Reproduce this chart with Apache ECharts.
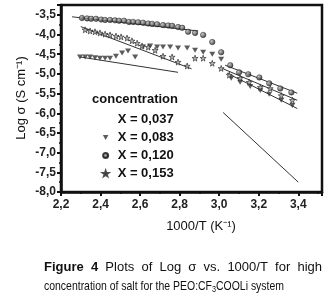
<!DOCTYPE html>
<html>
<head>
<meta charset="utf-8">
<script src="https://cdn.jsdelivr.net/npm/echarts@6/dist/echarts.min.js"></script>
<style>
  html, body { margin: 0; padding: 0; background: #fff; }
  #chart { width: 336px; height: 303px; }
</style>
</head>
<body>
<div id="chart"></div>
<script>
  // X = 0,120 (circles)
  const x120 = [2.306, 2.332, 2.352, 2.377, 2.403, 2.423, 2.448, 2.473, 2.494, 2.519, 2.544, 2.565, 2.590, 2.615, 2.641, 2.661, 2.686, 2.716, 2.742, 2.762, 2.792, 2.813, 2.843, 2.878, 2.919, 2.965, 3.010, 3.056, 3.101, 3.147, 3.203, 3.253, 3.309, 3.365];
  const y120 = [-3.58, -3.59, -3.60, -3.60, -3.62, -3.63, -3.63, -3.64, -3.65, -3.65, -3.68, -3.68, -3.69, -3.70, -3.72, -3.73, -3.74, -3.76, -3.77, -3.78, -3.81, -3.83, -3.93, -3.96, -4.01, -4.19, -4.45, -4.78, -4.96, -5.01, -5.09, -5.24, -5.37, -5.47];
  // X = 0,083 (down triangles)
  const x083 = [2.296, 2.322, 2.347, 2.372, 2.397, 2.423, 2.448, 2.478, 2.509, 2.539, 2.575, 2.615, 2.651, 2.686, 2.716, 2.752, 2.792, 2.838, 2.878, 2.919, 2.965, 3.010, 3.061, 3.106, 3.157, 3.208, 3.253, 3.314, 3.370];
  const y083 = [-4.57, -4.57, -4.57, -4.59, -4.60, -4.60, -4.60, -4.55, -4.47, -4.42, -4.57, -4.32, -4.29, -4.32, -4.32, -4.32, -4.34, -4.34, -4.40, -4.45, -4.50, -4.63, -5.11, -5.21, -5.32, -5.42, -5.52, -5.67, -5.80];
  // X = 0,153 (stars)
  const x153 = [2.322, 2.347, 2.372, 2.397, 2.423, 2.448, 2.478, 2.504, 2.534, 2.559, 2.585, 2.610, 2.641, 2.676, 2.716, 2.762, 2.792, 2.838, 2.878, 2.919, 2.965, 3.010, 3.051, 3.106, 3.152, 3.208, 3.258, 3.314, 3.370];
  const y153 = [-3.88, -3.91, -3.93, -3.96, -3.99, -4.01, -4.04, -4.06, -4.09, -4.16, -4.22, -4.29, -4.32, -4.40, -4.55, -4.57, -4.70, -4.80, -4.60, -4.60, -4.73, -4.86, -5.03, -5.11, -5.21, -5.34, -5.37, -5.55, -5.67];

  // straight fit lines, [x0, x1] and [y0, y1]
  const fit037aX = [2.296, 2.792], fit037aY = [-4.57, -4.96];
  const fit037bX = [3.02, 3.40], fit037bY = [-5.98, -7.75];
  const fit120lowX = [2.256, 2.894], fit120lowY = [-3.55, -3.91];
  const fit153lowX = [2.30, 2.86], fit153lowY = [-3.80, -4.87];
  const fit120highX = [3.03, 3.395], fit120highY = [-4.78, -5.49];
  const fit153highX = [3.015, 3.395], fit153highY = [-4.86, -5.67];
  const fit083highX = [3.04, 3.395], fit083highY = [-4.98, -5.88];

  const legendNames = ['X = 0,037', 'X = 0,083', 'X = 0,120', 'X = 0,153'];

  const zip = (xs, ys) => xs.map((v, i) => [v, ys[i]]);
  const comma = v => v.toFixed(1).replace('.', ',');

  const starPath = 'path://M50,0L61,35L98,35L68,57L79,91L50,70L21,91L32,57L2,35L39,35Z';
  const triPath = 'path://M0,0L10,0L5,9Z';
  const sphere = new echarts.graphic.RadialGradient(0.35, 0.35, 0.7, [
    {offset: 0, color: '#bbb'},
    {offset: 1, color: '#111'}
  ]);

  const fitLine = (name, xs, ys) => ({
    name: name,
    type: 'line',
    data: zip(xs, ys),
    showSymbol: false,
    silent: true,
    z: 1,
    lineStyle: {color: '#333', width: 1}
  });

  const capFont = 'Liberation Sans, Arial, sans-serif';
  const ctx = document.createElement('canvas').getContext('2d');
  const measure = (txt, font) => { ctx.font = font; return ctx.measureText(txt).width; };

  // caption line 1, justified
  const graphics = [];
  const reg = '13px ' + capFont;
  const bold = 'bold 13px ' + capFont;
  const sub = '9px ' + capFont;
  const words1 = [['Figure', bold], ['4', bold], ['Plots', reg], ['of', reg], ['Log', reg], ['σ', reg], ['vs.', reg], ['1000/T', reg], ['for', reg], ['high', reg]];
  const capLeft = 44, capRight = 322, line2Width = 240;
  let sumW = 0;
  words1.forEach(w => { sumW += measure(w[0], w[1]); });
  const gap = (capRight - capLeft - sumW) / (words1.length - 1);
  let cx = capLeft;
  words1.forEach(w => {
    graphics.push({type: 'text', x: cx, y: 267, style: {text: w[0], font: w[1], fill: '#111', textVerticalAlign: 'middle'}});
    cx += measure(w[0], w[1]) + gap;
  });
  // caption line 2 with subscript, a bit condensed like the original
  const segs2 = [['concentration of salt for the PEO:CF', reg, 286], ['3', sub, 290], ['COOLi system', reg, 286]];
  let w2 = 0;
  segs2.forEach(s => { w2 += measure(s[0], s[1]); });
  const sx = Math.min(1, line2Width / w2);
  let c2 = capLeft;
  segs2.forEach(s => {
    graphics.push({type: 'text', x: c2, y: s[2], scaleX: sx, style: {text: s[0], font: s[1], fill: '#111', textVerticalAlign: 'middle'}});
    c2 += measure(s[0], s[1]) * sx;
  });

  // axis names and legend title
  graphics.push({type: 'text', x: 21, y: 98, rotation: Math.PI / 2, style: {text: 'Log σ (S cm⁻¹)', font: '13px ' + capFont, fill: '#111', textAlign: 'center', textVerticalAlign: 'middle'}});
  graphics.push({type: 'text', x: 201, y: 226, style: {text: '1000/T (K⁻¹)', font: '13px ' + capFont, fill: '#111', textAlign: 'center', textVerticalAlign: 'middle'}});
  graphics.push({type: 'text', x: 135, y: 99, style: {text: 'concentration', font: 'bold 13px ' + capFont, fill: '#111', textAlign: 'center', textVerticalAlign: 'middle'}});

  const myChart = echarts.init(document.getElementById('chart'));
  myChart.setOption({
    animation: false,
    grid: {
      left: 61,
      right: 14,
      top: 5,
      bottom: 111,
      show: true,
      borderColor: '#111',
      borderWidth: 2.5
    },
    legend: {
      orient: 'vertical',
      left: 97,
      top: 107,
      itemWidth: 14,
      itemHeight: 5,
      itemGap: 3,
      textStyle: {fontFamily: capFont, fontWeight: 'bold', fontSize: 13, color: '#111', lineHeight: 15},
      data: [
        {name: legendNames[0], icon: 'circle', itemStyle: {opacity: 0}},
        {name: legendNames[1], icon: triPath},
        {name: legendNames[2], icon: 'circle'},
        {name: legendNames[3], icon: starPath}
      ]
    },
    xAxis: {
      type: 'value',
      min: 2.2,
      max: 3.52,
      interval: 0.2,
      axisLine: {lineStyle: {color: '#111', width: 2.5}},
      axisTick: {length: 4, lineStyle: {width: 2, color: '#111'}},
      minorTick: {show: true, splitNumber: 2, length: 2, lineStyle: {width: 1.5, color: '#111'}},
      splitLine: {show: false},
      axisLabel: {
        margin: 7,
        showMaxLabel: false,
        fontFamily: capFont,
        fontWeight: 'bold',
        fontSize: 12,
        color: '#222',
        formatter: comma
      }
    },
    yAxis: {
      type: 'value',
      min: -8,
      max: -3.25,
      interval: 0.5,
      axisLine: {show: true, lineStyle: {color: '#111', width: 2.5}},
      axisTick: {show: true, length: 4, lineStyle: {width: 2, color: '#111'}},
      minorTick: {show: true, splitNumber: 2, length: 2, lineStyle: {width: 1.5, color: '#111'}},
      splitLine: {show: false},
      axisLabel: {
        margin: 5,
        showMaxLabel: false,
        fontFamily: capFont,
        fontWeight: 'bold',
        fontSize: 12,
        color: '#222',
        formatter: comma
      }
    },
    graphic: graphics,
    series: [
      fitLine(legendNames[0], fit037aX, fit037aY),
      fitLine('fit b', fit037bX, fit037bY),
      fitLine('fit c', fit120lowX, fit120lowY),
      fitLine('fit d', fit153lowX, fit153lowY),
      fitLine('fit e', fit120highX, fit120highY),
      fitLine('fit f', fit153highX, fit153highY),
      fitLine('fit g', fit083highX, fit083highY),
      {
        name: legendNames[1],
        type: 'scatter',
        data: zip(x083, y083),
        symbol: triPath,
        symbolSize: [6, 5],
        itemStyle: {color: '#333'},
        z: 3
      },
      {
        name: legendNames[2],
        type: 'scatter',
        data: zip(x120, y120),
        symbol: 'circle',
        symbolSize: 5.5,
        itemStyle: {color: sphere, borderColor: '#111', borderWidth: 0.5},
        z: 3
      },
      {
        name: legendNames[3],
        type: 'scatter',
        data: zip(x153, y153),
        symbol: starPath,
        symbolSize: 6,
        itemStyle: {color: '#aaa', borderColor: '#222', borderWidth: 0.8},
        z: 3
      }
    ]
  });
</script>
</body>
</html>
